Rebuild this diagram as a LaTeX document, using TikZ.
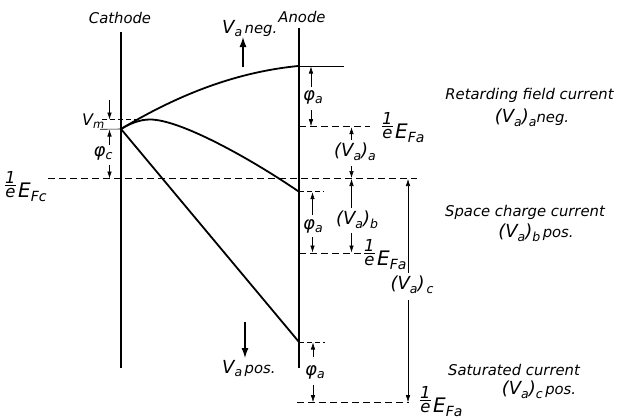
\documentclass[tikz,border=0pt]{standalone}
\usepackage{fontspec}
\setmainfont{DejaVu Sans}
\usetikzlibrary{arrows.meta}
\newcommand\sy[1]{{\fontsize{18}{18}\selectfont #1}}
\newcommand\lo[1]{\raisebox{-3.5pt}{\fontsize{12.5}{12.5}\selectfont #1}}
\newcommand\bigE[1]{{\fontsize{20}{20}\selectfont E}\raisebox{-4pt}{\fontsize{14}{14}\selectfont #1}}
\newcommand\ovre{{\fontsize{16.5}{17}\selectfont\begin{tabular}[b]{@{}c@{}}1\\[-4pt]\hline\rule{0pt}{12pt}e\end{tabular}}}
\begin{document}
\begin{tikzpicture}[x=1pt,y=-1pt,
  every node/.style={font=\fontsize{14.8}{16}\selectfont\itshape, inner sep=0pt},
  electrode/.style={line width=1.3pt},
  curve/.style={line width=1.8pt},
  dim/.style={line width=0.6pt,-{Latex[length=7pt,width=4.5pt]}},
  dsh/.style={line width=0.7pt,dash pattern=on 7pt off 4pt},
  thin tick/.style={line width=0.6pt},
  bigarrow/.style={line width=1.3pt,-{Latex[length=10pt,width=7pt]}}]
\useasboundingbox (0,0) rectangle (621,418);
% electrodes
\coordinate (cT) at (121,32);  \coordinate (cB) at (121,368);
\coordinate (aT) at (299,28);  \coordinate (aB) at (299,368);
\draw[electrode] (cT) -- (cB);
\draw[electrode] (aT) -- (aB);
\node (cath) at (120,18) {Cathode};
\node (anod) at (302,17) {Anode};
% curves
\coordinate (K) at (121,129);
\coordinate (Ea) at (298,66);
\coordinate (Eb) at (299,191.7);
\coordinate (Ec) at (299,342);
\draw[curve] (K) .. controls (181,93) and (238,72) .. (Ea);
\draw[curve] (K) .. controls (130,123.5) and (140,119.5) .. (150,119.5)
             .. controls (180,119.5) and (249,157.7) .. (Eb);
\draw[curve] (K) -- (Ec);
% V_a arrows
\coordinate (n1) at (243,67); \coordinate (n2) at (243,37);
\draw[bigarrow] (n1) -- (n2);
\node[anchor=base west] (vneg) at (222,33) {\sy{V}\lo{a}\,neg.};
\coordinate (p1) at (245,322); \coordinate (p2) at (245,358);
\draw[bigarrow] (p1) -- (p2);
\node[anchor=base west] (vpos) at (222,373) {\sy{V}\lo{a}\,pos.};
% cathode Fermi level
\coordinate (fc1) at (48,178.5); \coordinate (fc2) at (417,178.5);
\draw[dsh] (fc1) -- (fc2);
\node[anchor=base west] (efc) at (5,197) {\ovre\,\bigE{Fc}};
% V_m and phi_c
\coordinate (vm1) at (102,119.5); \coordinate (vm2) at (145,119.5);
\draw[dsh,dash pattern=on 5pt off 3pt] (vm1) -- (vm2);
\coordinate (k0) at (100,129.3);
\draw[thin tick] (k0) -- (K);
\coordinate (m1) at (109.5,100); \coordinate (m2) at (109.5,119.5);
\draw[dim] (m1) -- (m2);
\coordinate (m3) at (109.5,145); \coordinate (m4) at (109.5,129.5);
\draw[dim] (m3) -- (m4);
\coordinate (m5) at (109.5,165); \coordinate (m6) at (109.5,178.5);
\draw[dim] (m5) -- (m6);
\node[anchor=base west] (vm) at (82,125) {{\fontsize{16}{16}\selectfont V}\raisebox{-3pt}{\fontsize{11.5}{11.5}\selectfont m}};
\node (phic) at (103,153) {\sy{φ}\lo{c}};
% ---- anode, case a
\coordinate (ta) at (344,66);
\draw[thin tick] (Ea) -- (ta);
\coordinate (fa1) at (299,126.7); \coordinate (fa1e) at (370,126.7);
\draw[dsh] (fa1) -- (fa1e);
\draw[dim] (311,87) -- (311,66.5);
\draw[dim] (311,110) -- (311,126.2);
\node (phia1) at (313,97) {\sy{φ}\lo{a}};
\node[anchor=base west] (efa1) at (382,138) {\ovre\,\bigE{Fa}};
\draw[dim] (351.5,140) -- (351.5,127.2);
\draw[dim] (351.5,166) -- (351.5,178);
\node (vaa) at (355,152) {\sy{(V}\lo{a}\sy{)}\lo{a}};
% ---- case b
\coordinate (tb) at (324,191.7);
\draw[thin tick,dash pattern=on 5pt off 3pt] (Eb) -- (tb);
\coordinate (fa2) at (299,253); \coordinate (fa2e) at (362,253);
\draw[dsh] (fa2) -- (fa2e);
\draw[dim] (312.5,215) -- (312.5,192.2);
\draw[dim] (312.5,237) -- (312.5,252.5);
\node (phia2) at (313,226) {\sy{φ}\lo{a}};
\draw[dim] (351.5,208) -- (351.5,179);
\draw[dim] (351.5,233) -- (351.5,252.5);
\node (vab) at (357,220) {\sy{(V}\lo{a}\sy{)}\lo{b}};
\node[anchor=base west] (efa2) at (364,265) {\ovre\,\bigE{Fa}};
% ---- case c
\coordinate (tc) at (325,342);
\draw[thin tick,dash pattern=on 5pt off 3pt] (Ec) -- (tc);
\coordinate (fa3) at (297,402.7); \coordinate (fa3e) at (409,402.7);
\draw[dsh] (fa3) -- (fa3e);
\draw[dim] (313,357) -- (313,342.5);
\draw[dim] (313,385) -- (313,402.2);
\node (phia3) at (315,372) {\sy{φ}\lo{a}};
\draw[dim] (408,273) -- (408,179);
\draw[dim] (408,300) -- (408,402.2);
\node (vac) at (412,285) {\sy{(V}\lo{a}\sy{)}\lo{\,c}};
\node[anchor=base west] (efa3) at (420,412) {\ovre\,\bigE{Fa}};
% ---- descriptions
\node (ra) at (529.5,95) {Retarding field current};
\node (rb) at (532,118) {\sy{(V}\lo{a}\sy{)}\lo{a}neg.};
\node (sa) at (525,212) {Space charge current};
\node (sb) at (536,233) {\sy{(V}\lo{a}\sy{)}\lo{b}\,pos.};
\node (ua) at (514,370) {Saturated current};
\node (ub) at (539,390) {\sy{(V}\lo{a}\sy{)}\lo{c}\,pos.};
\end{tikzpicture}
\end{document}
